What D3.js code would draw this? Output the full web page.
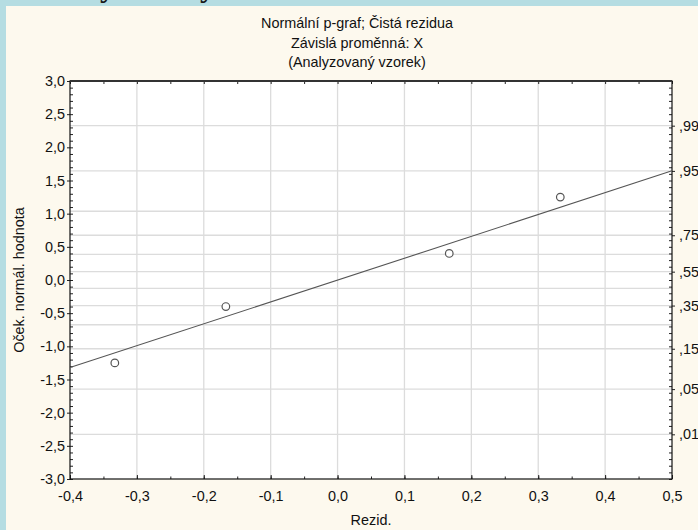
<!DOCTYPE html>
<html>
<head>
<meta charset="utf-8">
<script src="https://cdn.jsdelivr.net/npm/d3@7"></script>
<style>
  html, body { margin: 0; padding: 0; background: #fdf9ee; }
  svg { display: block; }
</style>
</head>
<body>
<div id="chart"></div>
<script>
// data
const residuals = [-0.333, -0.167, 0.167, 0.333];
const expectedNormal = [-1.25, -0.40, 0.40, 1.25];
const fitX = [-0.4, 0.5];
const fitY = [-1.32, 1.646];
const xTicks = [-0.4, -0.3, -0.2, -0.1, 0.0, 0.1, 0.2, 0.3, 0.4, 0.5];
const yTicks = [-3, -2.5, -2, -1.5, -1, -0.5, 0, 0.5, 1, 1.5, 2, 2.5, 3];
const probLabels = [0.01, 0.05, 0.15, 0.35, 0.55, 0.75, 0.95, 0.99];
const probGrid = [0.01, 0.05, 0.15, 0.25, 0.35, 0.45, 0.55, 0.65, 0.75, 0.85, 0.95, 0.99];
const titles = ["Normální p-graf; Čistá rezidua", "Závislá proměnná: X", "(Analyzovaný vzorek)"];

const width = 698, height = 530;
const margins = { top: 81, right: 26, bottom: 51, left: 70 };
const boundedWidth = width - margins.left - margins.right;
const boundedHeight = height - margins.top - margins.bottom;
const fontSize = 14.4;

const cz = d3.formatLocale({ decimal: ",", thousands: " ", grouping: [3], currency: ["", ""], minus: "-" });
const fmt = cz.format(".1f");
const fmtP = (p) => "," + d3.format(".2f")(p).split(".")[1];

// inverse normal cdf (Acklam) for the probability axis
function probit(p) {
  const a = [-39.69683028665376, 220.9460984245205, -275.9285104469687, 138.357751867269, -30.66479806614716, 2.506628277459239];
  const b = [-54.47609879822406, 161.5858368580409, -155.6989798598866, 66.80131188771972, -13.28068155288572];
  const c = [-0.007784894002430293, -0.3223964580411365, -2.400758277161838, -2.549732539343734, 4.374664141464968, 2.938163982698783];
  const d = [0.007784695709041462, 0.3224671290700398, 2.445134137142996, 3.754408661907416];
  const pl = 0.02425;
  let q, r;
  if (p < pl) {
    q = Math.sqrt(-2 * Math.log(p));
    return (((((c[0]*q+c[1])*q+c[2])*q+c[3])*q+c[4])*q+c[5]) / ((((d[0]*q+d[1])*q+d[2])*q+d[3])*q+1);
  } else if (p <= 1 - pl) {
    q = p - 0.5; r = q * q;
    return (((((a[0]*r+a[1])*r+a[2])*r+a[3])*r+a[4])*r+a[5])*q / (((((b[0]*r+b[1])*r+b[2])*r+b[3])*r+b[4])*r+1);
  }
  q = Math.sqrt(-2 * Math.log(1 - p));
  return -(((((c[0]*q+c[1])*q+c[2])*q+c[3])*q+c[4])*q+c[5]) / ((((d[0]*q+d[1])*q+d[2])*q+d[3])*q+1);
}

const svg = d3.select("#chart").append("svg")
  .attr("width", width).attr("height", height)
  .style("font-family", "'Liberation Sans', Arial, sans-serif");

// background + blue frame strip
svg.append("rect").attr("width", width).attr("height", height).attr("fill", "#fdf9ee");
svg.append("rect").attr("width", width).attr("height", 6).attr("fill", "#b5dde2");
svg.append("rect").attr("width", 6).attr("height", height).attr("fill", "#b5dde2");
// descenders of the header text cut off above the picture
svg.append("g").attr("font-family", "'Liberation Serif', serif").attr("font-weight", 700)
  .attr("font-size", 30).attr("fill", "#1a1a1a")
  .selectAll("text").data([100, 200]).join("text")
  .attr("x", (d) => d).attr("y", -3).text("y");

const xScale = d3.scaleLinear().domain([-0.4, 0.5]).range([0, boundedWidth]);
const yScale = d3.scaleLinear().domain([-3, 3]).range([boundedHeight, 0]);

const bounds = svg.append("g").attr("transform", `translate(${margins.left},${margins.top})`);
bounds.append("rect").attr("width", boundedWidth).attr("height", boundedHeight).attr("fill", "#fff");

// grid
bounds.append("g").selectAll("line").data(xTicks.slice(1, -1)).join("line")
  .attr("x1", (d) => xScale(d)).attr("x2", (d) => xScale(d))
  .attr("y1", 0).attr("y2", boundedHeight)
  .attr("stroke", "#dcdcdc").attr("stroke-width", 1.3);
bounds.append("g").selectAll("line").data(probGrid).join("line")
  .attr("x1", 0).attr("x2", boundedWidth)
  .attr("y1", (d) => yScale(probit(d))).attr("y2", (d) => yScale(probit(d)))
  .attr("stroke", "#dcdcdc").attr("stroke-width", 1.3);

// axes
const tickStyle = (g) => g.attr("font-size", fontSize).attr("color", "#111")
  .call((g) => g.selectAll(".tick line").attr("stroke", "#222"));

const xMinor = d3.range(-0.4, 0.5001, 0.05);
const yMinor = d3.range(-3, 3.0001, 0.1);

bounds.append("g").attr("transform", `translate(0,${boundedHeight})`)
  .call(d3.axisBottom(xScale).tickValues(xTicks).tickFormat(fmt).tickSize(-4).tickPadding(12))
  .call(tickStyle)
  .call((g) => g.select(".domain").remove());
bounds.append("g").attr("transform", `translate(0,${boundedHeight})`)
  .call(d3.axisBottom(xScale).tickValues(xMinor).tickFormat("").tickSize(-2.5))
  .call((g) => g.selectAll("line").attr("stroke", "#222"))
  .call((g) => g.select(".domain").remove());
bounds.append("g")
  .call(d3.axisTop(xScale).tickValues(xMinor).tickFormat("").tickSize(-3))
  .call((g) => g.selectAll("line").attr("stroke", "#222"))
  .call((g) => g.select(".domain").remove());

bounds.append("g")
  .call(d3.axisLeft(yScale).tickValues(yTicks).tickFormat(fmt).tickSize(3).tickPadding(2))
  .call(tickStyle)
  .call((g) => g.select(".domain").remove());
bounds.append("g")
  .call(d3.axisLeft(yScale).tickValues(yMinor).tickFormat("").tickSize(-3))
  .call((g) => g.selectAll("line").attr("stroke", "#222"))
  .call((g) => g.select(".domain").remove());

bounds.append("g").attr("transform", `translate(${boundedWidth},0)`)
  .call(d3.axisRight(yScale).tickValues(probLabels.map(probit)).tickFormat((d, i) => fmtP(probLabels[i])).tickSize(3).tickPadding(4))
  .call(tickStyle)
  .call((g) => g.select(".domain").remove());
bounds.append("g").attr("transform", `translate(${boundedWidth},0)`)
  .call(d3.axisRight(yScale).tickValues(yMinor).tickFormat("").tickSize(-3))
  .call((g) => g.selectAll("line").attr("stroke", "#222"))
  .call((g) => g.select(".domain").remove());

bounds.append("rect").attr("width", boundedWidth).attr("height", boundedHeight)
  .attr("fill", "none").attr("stroke", "#111").attr("stroke-width", 1.2);
bounds.append("line").attr("x1", 0).attr("x2", boundedWidth).attr("y1", 0).attr("y2", 0)
  .attr("stroke", "#333").attr("stroke-width", 2);

// fitted line
const fit = fitX.map((x, i) => [x, fitY[i]]);
bounds.append("path")
  .attr("d", d3.line().x((d) => xScale(d[0])).y((d) => yScale(d[1]))(fit))
  .attr("fill", "none").attr("stroke", "#555").attr("stroke-width", 1.1);

// points
bounds.append("g").selectAll("circle").data(residuals).join("circle")
  .attr("cx", (d) => xScale(d)).attr("cy", (d, i) => yScale(expectedNormal[i]))
  .attr("r", 3.8).attr("fill", "#fff").attr("stroke", "#555").attr("stroke-width", 1.2);

// titles and axis labels
svg.append("g").attr("font-size", fontSize).attr("fill", "#111").attr("text-anchor", "middle")
  .selectAll("text").data(titles).join("text")
  .attr("x", 357).attr("y", (d, i) => 28 + i * 19.5).text((d) => d);

svg.append("text").attr("x", margins.left + boundedWidth / 2).attr("y", 525)
  .attr("text-anchor", "middle").attr("font-size", fontSize).attr("fill", "#111").text("Rezid.");
svg.append("text").attr("transform", `translate(24,${margins.top + boundedHeight / 2}) rotate(-90)`)
  .attr("text-anchor", "middle").attr("font-size", fontSize).attr("fill", "#111").text("Oček. normál. hodnota");
</script>
</body>
</html>
